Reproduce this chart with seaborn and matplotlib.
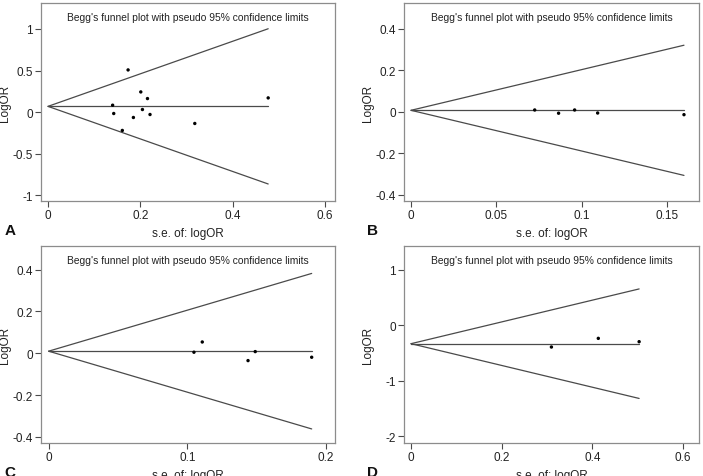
import matplotlib
matplotlib.use("Agg")
import matplotlib.pyplot as plt
import matplotlib.ticker as mticker
import seaborn as sns
import pandas as pd

# Panel A
se_a = [0.1735, 0.201, 0.2155, 0.140, 0.2046, 0.1424, 0.221, 0.185, 0.161, 0.318, 0.477]
logor_a = [0.507, 0.242, 0.162, 0.082, 0.030, -0.018, -0.030, -0.066, -0.222, -0.138, 0.170]
pooled_a = 0.068

# Panel B
se_b = [0.0725, 0.0959, 0.0865, 0.1094, 0.1600]
logor_b = [0.0096, 0.0096, -0.006, -0.005, -0.013]
pooled_b = 0.008

# Panel C
se_c = [0.1048, 0.1108, 0.1490, 0.1438, 0.1897]
logor_c = [0.005, 0.054, 0.008, -0.035, -0.019]
pooled_c = 0.010

# Panel D
se_d = [0.3096, 0.413, 0.503]
logor_d = [-0.392, -0.236, -0.296]
pooled_d = -0.332

panels = [
    ("A", se_a, logor_a, pooled_a, [0, 0.2, 0.4, 0.6], [-1, -0.5, 0, 0.5, 1],
     (-0.0152, 0.6217), (-1.072, 1.313)),
    ("B", se_b, logor_b, pooled_b, [0, 0.05, 0.1, 0.15], [-0.4, -0.2, 0, 0.2, 0.4],
     (-0.0041, 0.1688), (-0.429, 0.525)),
    ("C", se_c, logor_c, pooled_c, [0, 0.1, 0.2], [-0.4, -0.2, 0, 0.2, 0.4],
     (-0.0055, 0.2065), (-0.429, 0.513)),
    ("D", se_d, logor_d, pooled_d, [0, 0.2, 0.4, 0.6], [-2, -1, 0, 1],
     (-0.0154, 0.635), (-2.12, 1.427)),
]

# axes rectangles in figure fractions (left, bottom, width, height)
rects = [
    (0.0583, 0.5765, 0.4182, 0.4151),
    (0.5747, 0.5765, 0.4196, 0.4151),
    (0.0583, 0.0692, 0.4182, 0.4130),
    (0.5747, 0.0692, 0.4196, 0.4130),
]

sns.set_theme(style="white")
plt.rcParams['font.family'] = ['Liberation Sans', 'DejaVu Sans']
plt.rcParams['axes.unicode_minus'] = False

fig = plt.figure(figsize=(7.03, 4.77), dpi=100)
line_col = "#4a4a4a"
frame_col = "#8c8c8c"
text_col = "#222222"

for (label, se, logor, pooled, xt, yt, xl, yl), rect in zip(panels, rects):
    ax = fig.add_axes(rect)
    df = pd.DataFrame({"se": se, "logor": logor})
    max_se = max(se)

    # pseudo 95% confidence limits and pooled estimate
    lines = pd.DataFrame({
        "se": [0, max_se, 0, max_se, 0, max_se],
        "val": [pooled, pooled + 1.96 * max_se,
                pooled, pooled - 1.96 * max_se,
                pooled, pooled],
        "grp": ["up", "up", "low", "low", "mid", "mid"],
    })
    sns.lineplot(data=lines, x="se", y="val", units="grp", estimator=None,
                 color=line_col, linewidth=0.9, ax=ax)
    sns.scatterplot(data=df, x="se", y="logor", color="black", s=6,
                    edgecolor="none", ax=ax, zorder=3)

    ax.set_xlim(*xl)
    ax.set_ylim(*yl)
    ax.set_xticks(xt)
    ax.set_yticks(yt)
    fmt = mticker.FuncFormatter(lambda v, p: f"{v:g}")
    ax.xaxis.set_major_formatter(fmt)
    ax.yaxis.set_major_formatter(fmt)
    ax.tick_params(axis="both", which="major", length=4, width=0.8,
                   color=line_col, labelsize=8.5, labelcolor=text_col, pad=2,
                   bottom=True, left=True)
    for sp in ax.spines.values():
        sp.set_color(frame_col)
        sp.set_linewidth(0.9)

    ax.set_xlabel("s.e. of: logOR", fontsize=8.5, color=text_col, va="center")
    ax.set_ylabel("LogOR", fontsize=8.5, color=text_col, va="center")
    ax.xaxis.set_label_coords(0.5, -0.162)
    ax.yaxis.set_label_coords(-0.122, 0.5)
    ax.text(0.5, 0.955, "Begg's funnel plot with pseudo 95% confidence limits",
            transform=ax.transAxes, ha="center", va="top", fontsize=7.4,
            color=text_col)
    # panel letter
    fig.text(rect[0] - 0.052, rect[1] - 0.06, label, fontsize=11,
             fontweight="bold", ha="left", va="center", color="#111111")

fig.savefig("out.png", dpi=100)
